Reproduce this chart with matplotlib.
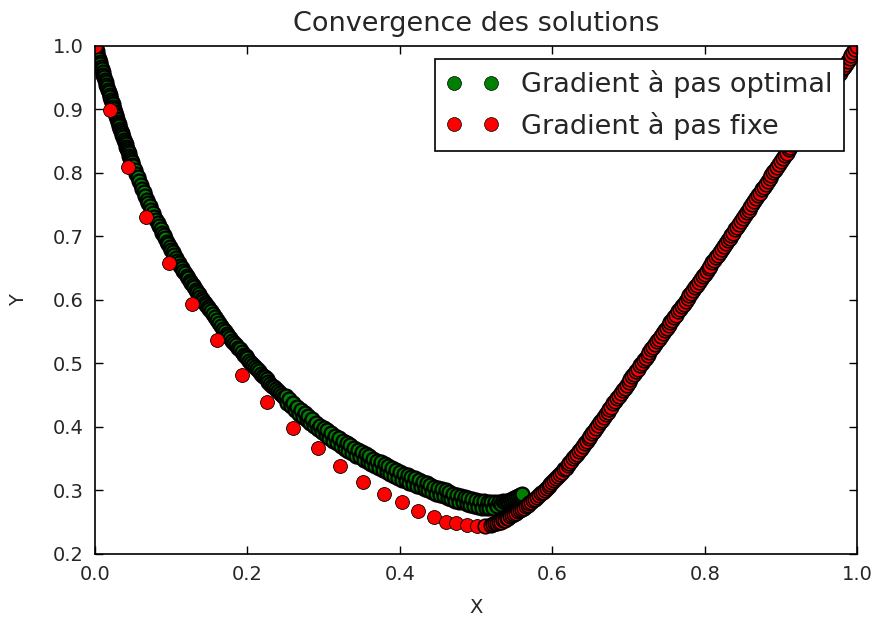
import matplotlib
matplotlib.use("Agg")
import matplotlib.pyplot as plt

# iterates of the optimal-step gradient (left branch of the valley)
X_OPT = [
    0.000, 0.001, 0.002, 0.003, 0.004, 0.005, 0.006, 0.007, 0.008, 0.009,
    0.010, 0.011, 0.012, 0.013, 0.014, 0.015, 0.016, 0.017, 0.018, 0.019,
    0.020, 0.021, 0.022, 0.023, 0.024, 0.025, 0.026, 0.027, 0.028, 0.029,
    0.030, 0.031, 0.032, 0.033, 0.034, 0.035, 0.036, 0.037, 0.038, 0.039,
    0.040, 0.041, 0.042, 0.043, 0.044, 0.045, 0.046, 0.047, 0.048, 0.049,
    0.050, 0.052, 0.054, 0.056, 0.058, 0.060, 0.062, 0.064, 0.066, 0.068,
    0.070, 0.072, 0.074, 0.076, 0.078, 0.080, 0.082, 0.084, 0.086, 0.088,
    0.090, 0.092, 0.094, 0.096, 0.098, 0.100, 0.102, 0.104, 0.106, 0.108,
    0.110, 0.112, 0.114, 0.116, 0.118, 0.120, 0.122, 0.124, 0.126, 0.128,
    0.130, 0.132, 0.134, 0.136, 0.138, 0.140, 0.142, 0.144, 0.146, 0.148,
    0.1500, 0.1525, 0.1550, 0.1575, 0.1600, 0.1625, 0.1650, 0.1675, 0.1700, 0.1725,
    0.1750, 0.1775, 0.1800, 0.1825, 0.1850, 0.1875, 0.1900, 0.1925, 0.1950, 0.1975,
    0.2000, 0.2025, 0.2050, 0.2075, 0.2100, 0.2125, 0.2150, 0.2175, 0.2200, 0.2225,
    0.2250, 0.2275, 0.2300, 0.2325, 0.2350, 0.2375, 0.2400, 0.2425, 0.2450, 0.2475,
    0.2500, 0.2525, 0.2550, 0.2575, 0.2600, 0.2625, 0.2650, 0.2675, 0.2700, 0.2725,
    0.2750, 0.2775, 0.2800, 0.2825, 0.2850, 0.2875, 0.2900, 0.2925, 0.2950, 0.2975,
    0.3000, 0.3025, 0.3050, 0.3075, 0.3100, 0.3125, 0.3150, 0.3175, 0.3200, 0.3225,
    0.3250, 0.3275, 0.3300, 0.3325, 0.3350, 0.3375, 0.3400, 0.3425, 0.3450, 0.3475,
    0.3500, 0.3525, 0.3550, 0.3575, 0.3600, 0.3625, 0.3650, 0.3675, 0.3700, 0.3725,
    0.3750, 0.3775, 0.3800, 0.3825, 0.3850, 0.3875, 0.3900, 0.3925, 0.3950, 0.3975,
    0.4000, 0.4025, 0.4050, 0.4075, 0.4100, 0.4125, 0.4150, 0.4175, 0.4200, 0.4225,
    0.4250, 0.4275, 0.4300, 0.4325, 0.4350, 0.4375, 0.4400, 0.4425, 0.4450, 0.4475,
    0.4500, 0.4525, 0.4550, 0.4575, 0.4600, 0.4625, 0.4650, 0.4675, 0.4700, 0.4725,
    0.4750, 0.4775, 0.4800, 0.4825, 0.4850, 0.4875, 0.4900, 0.4925, 0.4950, 0.4975,
    0.5000, 0.5025, 0.5050, 0.5075, 0.5100, 0.5125, 0.5150, 0.5175, 0.5200, 0.5225,
    0.5250, 0.5275, 0.5300, 0.5325, 0.5350, 0.5375, 0.5400, 0.5425, 0.5450, 0.5475,
    0.5500, 0.5525, 0.5550, 0.5575, 0.5600]
Y_OPT = [
    1.000, 0.996, 0.992, 0.987, 0.983, 0.979, 0.975, 0.971, 0.967, 0.963,
    0.959, 0.955, 0.951, 0.947, 0.943, 0.939, 0.935, 0.931, 0.927, 0.923,
    0.919, 0.915, 0.911, 0.908, 0.904, 0.900, 0.896, 0.892, 0.889, 0.885,
    0.881, 0.877, 0.874, 0.870, 0.866, 0.863, 0.859, 0.856, 0.852, 0.848,
    0.845, 0.841, 0.838, 0.834, 0.831, 0.827, 0.824, 0.820, 0.817, 0.813,
    0.811, 0.805, 0.799, 0.793, 0.787, 0.781, 0.775, 0.770, 0.764, 0.758,
    0.753, 0.748, 0.742, 0.737, 0.731, 0.726, 0.721, 0.716, 0.711, 0.706,
    0.702, 0.697, 0.692, 0.688, 0.683, 0.679, 0.675, 0.670, 0.666, 0.662,
    0.658, 0.654, 0.650, 0.646, 0.642, 0.638, 0.634, 0.630, 0.627, 0.623,
    0.620, 0.616, 0.612, 0.609, 0.605, 0.602, 0.599, 0.595, 0.592, 0.589,
    0.586, 0.582, 0.578, 0.573, 0.568, 0.564, 0.559, 0.555, 0.551, 0.547,
    0.544, 0.540, 0.536, 0.532, 0.529, 0.525, 0.522, 0.518, 0.514, 0.511,
    0.508, 0.504, 0.501, 0.497, 0.494, 0.491, 0.488, 0.484, 0.481, 0.478,
    0.475, 0.471, 0.468, 0.465, 0.463, 0.460, 0.457, 0.453, 0.450, 0.447,
    0.449, 0.438, 0.444, 0.433, 0.438, 0.427, 0.432, 0.421, 0.427, 0.416,
    0.422, 0.411, 0.417, 0.406, 0.412, 0.401, 0.406, 0.396, 0.402, 0.392,
    0.399, 0.387, 0.395, 0.382, 0.390, 0.378, 0.386, 0.374, 0.382, 0.370,
    0.378, 0.366, 0.374, 0.362, 0.371, 0.359, 0.367, 0.355, 0.364, 0.352,
    0.360, 0.348, 0.357, 0.345, 0.354, 0.342, 0.350, 0.338, 0.347, 0.335,
    0.344, 0.332, 0.341, 0.329, 0.338, 0.326, 0.335, 0.323, 0.332, 0.320,
    0.329, 0.317, 0.326, 0.315, 0.324, 0.312, 0.321, 0.310, 0.319, 0.307,
    0.316, 0.305, 0.314, 0.302, 0.311, 0.300, 0.309, 0.297, 0.306, 0.295,
    0.304, 0.293, 0.302, 0.291, 0.300, 0.288, 0.297, 0.286, 0.295, 0.284,
    0.293, 0.282, 0.292, 0.281, 0.290, 0.279, 0.288, 0.277, 0.287, 0.276,
    0.285, 0.274, 0.284, 0.273, 0.283, 0.272, 0.282, 0.272, 0.282, 0.273,
    0.282, 0.275, 0.282, 0.278, 0.283, 0.281, 0.284, 0.284, 0.285, 0.286,
    0.288, 0.289, 0.291, 0.293, 0.295]

# iterates of the fixed-step gradient
X_FIXE = [
    0.000, 0.020, 0.043, 0.067, 0.097, 0.127, 0.160, 0.193, 0.226, 0.260,
    0.293, 0.322, 0.352, 0.379, 0.403, 0.424, 0.445, 0.460, 0.474, 0.488,
    0.501, 0.512,
    0.5200, 0.5225, 0.5250, 0.5275, 0.5300, 0.5325, 0.5350, 0.5375, 0.5400, 0.5425,
    0.5450, 0.5475, 0.5500, 0.5525, 0.5550, 0.5575, 0.5600, 0.5625, 0.5650, 0.5675,
    0.5700, 0.5725, 0.5750, 0.5775, 0.5800, 0.5825, 0.5850, 0.5875, 0.5900, 0.5925,
    0.5950, 0.5975, 0.6000, 0.6025, 0.6050, 0.6075, 0.6100, 0.6125, 0.6150, 0.6175,
    0.6200, 0.6225, 0.6250, 0.6275, 0.6300, 0.6325, 0.6350, 0.6375, 0.6400, 0.6425,
    0.6450, 0.6475, 0.6500, 0.6525, 0.6550, 0.6575, 0.6600, 0.6625, 0.6650, 0.6675,
    0.6700, 0.6725, 0.6750, 0.6775, 0.6800, 0.6825, 0.6850, 0.6875, 0.6900, 0.6925,
    0.6950, 0.6975, 0.7000, 0.7025, 0.7050, 0.7075, 0.7100, 0.7125, 0.7150, 0.7175,
    0.7200, 0.7225, 0.7250, 0.7275, 0.7300, 0.7325, 0.7350, 0.7375, 0.7400, 0.7425,
    0.7450, 0.7475, 0.7500, 0.7525, 0.7550, 0.7575, 0.7600, 0.7625, 0.7650, 0.7675,
    0.7700, 0.7725, 0.7750, 0.7775, 0.7800, 0.7825, 0.7850, 0.7875, 0.7900, 0.7925,
    0.7950, 0.7975, 0.8000, 0.8025, 0.8050, 0.8075, 0.8100, 0.8125, 0.8150, 0.8175,
    0.8200, 0.8225, 0.8250, 0.8275, 0.8300, 0.8325, 0.8350, 0.8375, 0.8400, 0.8425,
    0.8450, 0.8475, 0.8500, 0.8525, 0.8550, 0.8575, 0.8600, 0.8625, 0.8650, 0.8675,
    0.8700, 0.8725, 0.8750, 0.8775, 0.8800, 0.8825, 0.8850, 0.8875, 0.8900, 0.8925,
    0.8950, 0.8975, 0.9000, 0.9025, 0.9050, 0.9075, 0.9100, 0.9125, 0.9150, 0.9175,
    0.9200, 0.9225, 0.9250, 0.9275, 0.9300, 0.9325, 0.9350, 0.9375, 0.9400, 0.9425,
    0.9450, 0.9475, 0.9500, 0.9525, 0.9550, 0.9575, 0.9600, 0.9625, 0.9650, 0.9675,
    0.9700, 0.9725, 0.9750, 0.9775, 0.9800, 0.9825, 0.9850, 0.9875, 0.9900, 0.9925,
    0.9950, 0.9975, 1.0000]
Y_FIXE = [
    1.000, 0.899, 0.809, 0.730, 0.658, 0.593, 0.537, 0.482, 0.439, 0.399,
    0.367, 0.339, 0.313, 0.294, 0.281, 0.267, 0.258, 0.251, 0.249, 0.246,
    0.244, 0.244,
    0.246, 0.247, 0.248, 0.249, 0.250, 0.251, 0.253, 0.254, 0.256, 0.257,
    0.259, 0.261, 0.263, 0.265, 0.267, 0.269, 0.271, 0.273, 0.275, 0.277,
    0.280, 0.282, 0.285, 0.287, 0.290, 0.293, 0.296, 0.298, 0.301, 0.304,
    0.307, 0.310, 0.313, 0.316, 0.320, 0.323, 0.326, 0.329, 0.333, 0.336,
    0.340, 0.343, 0.347, 0.351, 0.355, 0.358, 0.362, 0.366, 0.370, 0.374,
    0.378, 0.382, 0.386, 0.390, 0.394, 0.398, 0.403, 0.407, 0.411, 0.415,
    0.420, 0.424, 0.428, 0.432, 0.437, 0.441, 0.445, 0.449, 0.454, 0.458,
    0.462, 0.466, 0.471, 0.475, 0.480, 0.484, 0.488, 0.492, 0.497, 0.501,
    0.505, 0.509, 0.514, 0.518, 0.522, 0.526, 0.531, 0.535, 0.539, 0.543,
    0.548, 0.552, 0.556, 0.560, 0.565, 0.569, 0.573, 0.577, 0.582, 0.586,
    0.590, 0.594, 0.599, 0.603, 0.607, 0.611, 0.616, 0.620, 0.624, 0.628,
    0.633, 0.637, 0.641, 0.645, 0.650, 0.654, 0.659, 0.663, 0.667, 0.671,
    0.676, 0.680, 0.685, 0.689, 0.694, 0.698, 0.702, 0.706, 0.711, 0.715,
    0.720, 0.724, 0.729, 0.733, 0.738, 0.742, 0.747, 0.751, 0.756, 0.760,
    0.765, 0.769, 0.774, 0.778, 0.783, 0.787, 0.792, 0.796, 0.801, 0.805,
    0.810, 0.814, 0.819, 0.823, 0.828, 0.832, 0.837, 0.841, 0.846, 0.850,
    0.855, 0.859, 0.864, 0.868, 0.873, 0.877, 0.882, 0.886, 0.891, 0.895,
    0.900, 0.904, 0.909, 0.913, 0.918, 0.922, 0.927, 0.931, 0.936, 0.940,
    0.945, 0.949, 0.954, 0.958, 0.963, 0.967, 0.972, 0.976, 0.981, 0.985,
    0.990, 0.995, 1.000]

X_TICKS = [0.0, 0.2, 0.4, 0.6, 0.8, 1.0]
Y_TICKS = [0.2, 0.3, 0.4, 0.5, 0.6, 0.7, 0.8, 0.9, 1.0]

TXT = "#262626"
N_LARGE_STEPS = 22   # fixed-step iterates before they crowd into the valley

fig = plt.figure(figsize=(8.76, 6.21), dpi=100)
ax = fig.add_axes([0.1085, 0.108, 0.870, 0.818])

# heavier marker edges where the iterates pile up on each other
ax.plot(X_OPT, Y_OPT, "o", color="green", mec="black", mew=1.6, ms=10,
        label="Gradient à pas optimal")
ax.plot(X_FIXE[:N_LARGE_STEPS], Y_FIXE[:N_LARGE_STEPS], "o", color="red",
        mec="black", mew=0.6, ms=10, label="Gradient à pas fixe")
ax.plot(X_FIXE[N_LARGE_STEPS - 1:], Y_FIXE[N_LARGE_STEPS - 1:], "o",
        color="red", mec="black", mew=1.15, ms=10.5)

ax.set_xlim(0.0, 1.0)
ax.set_ylim(0.2, 1.0)
ax.set_xticks(X_TICKS)
ax.set_yticks(Y_TICKS)
ax.tick_params(direction="in", top=True, right=True, length=6, width=1,
               labelsize=14, pad=8, labelcolor=TXT)
for sp in ax.spines.values():
    sp.set_linewidth(1.2)

ax.set_xlabel("X", fontsize=14, color=TXT, labelpad=10)
ax.set_ylabel("Y", fontsize=14, color=TXT, labelpad=18)
ax.set_title("Convergence des solutions", fontsize=19.5, color=TXT, pad=11)

leg = ax.legend(loc="upper right", numpoints=2, fontsize=19.5, fancybox=False,
                framealpha=1, edgecolor="black", borderaxespad=0.5)
leg.get_frame().set_linewidth(1.2)
for h in leg.legend_handles:
    h.set_markeredgewidth(0.5)
for t in leg.get_texts():
    t.set_color(TXT)

fig.savefig("out.png", dpi=100)
